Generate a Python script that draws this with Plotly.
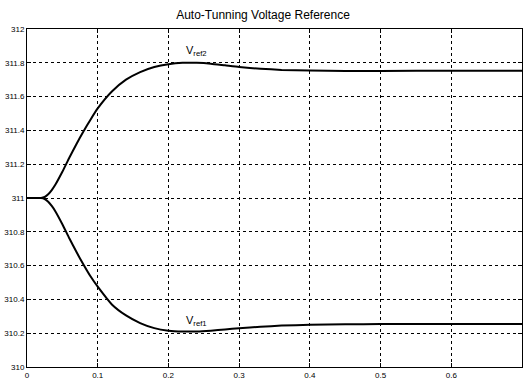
import plotly.graph_objects as go

t = [0, 0.01, 0.02, 0.025, 0.03, 0.035, 0.04, 0.05, 0.06, 0.07, 0.08, 0.09, 0.1,
     0.12, 0.14, 0.16, 0.18, 0.2, 0.22, 0.24, 0.26, 0.28, 0.3, 0.33, 0.36, 0.4,
     0.45, 0.5, 0.6, 0.7]
vref2 = [311.0, 311.0, 311.0, 311.006, 311.022, 311.047, 311.078, 311.155, 311.24, 311.32,
         311.395, 311.465, 311.53, 311.63, 311.70, 311.745, 311.775, 311.792, 311.80,
         311.80, 311.795, 311.785, 311.775, 311.765, 311.758, 311.754, 311.752,
         311.752, 311.753, 311.753]
vref1 = [311.0, 311.0, 311.0, 310.994, 310.978, 310.953, 310.922, 310.845, 310.76, 310.68,
         310.605, 310.535, 310.475, 310.37, 310.305, 310.26, 310.23, 310.215, 310.21,
         310.21, 310.215, 310.222, 310.23, 310.238, 310.245, 310.25, 310.253,
         310.254, 310.255, 310.255]

xticks = [0, 0.1, 0.2, 0.3, 0.4, 0.5, 0.6, 0.7]
xtick_text = ["0", "0.1", "0.2", "0.3", "0.4", "0.5", "0.6", "0.7"]
yticks = [310, 310.2, 310.4, 310.6, 310.8, 311, 311.2, 311.4, 311.6, 311.8, 312]
ytick_text = ["310", "310.2", "310.4", "310.6", "310.8", "311", "311.2", "311.4",
              "311.6", "311.8", "312"]

fig = go.Figure()
for y in (vref2, vref1):
    fig.add_trace(go.Scatter(x=t, y=y, mode="lines",
                             line=dict(color="black", width=2, shape="spline", smoothing=0.5),
                             showlegend=False, hoverinfo="skip"))

fig.add_annotation(x=0.24, y=311.87, text="V<sub>ref2</sub>", showarrow=False,
                   font=dict(size=11, color="black", family="Liberation Sans"))
fig.add_annotation(x=0.24, y=310.275, text="V<sub>ref1</sub>", showarrow=False,
                   font=dict(size=11, color="black", family="Liberation Sans"))

axis_common = dict(showline=True, linecolor="black", linewidth=1, mirror="allticks",
                   ticks="inside", ticklen=4, tickcolor="black",
                   showgrid=True, gridcolor="black", gridwidth=1, griddash="dot",
                   zeroline=False, tickfont=dict(size=8, color="black", family="Liberation Sans"))

fig.update_xaxes(range=[0, 0.7], tickvals=xticks, ticktext=xtick_text, **axis_common)
fig.update_yaxes(range=[310, 312], tickvals=yticks, ticktext=ytick_text, **axis_common)

fig.update_layout(
    width=526, height=383,
    margin=dict(l=27, r=3, t=29, b=13),
    paper_bgcolor="white", plot_bgcolor="white",
    title=dict(text="Auto-Tunning Voltage Reference", x=0.5, xanchor="center",
               y=0.961, yanchor="middle",
               font=dict(size=12, color="black", family="Liberation Sans")),
)

fig.write_html("out.html", config={"displayModeBar": False},
               post_script="document.body.style.margin='0';document.body.style.overflow='hidden';")
